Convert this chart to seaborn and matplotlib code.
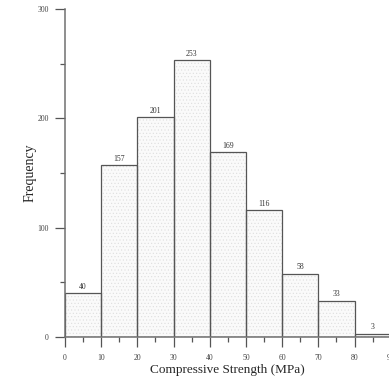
import numpy as np
import matplotlib
matplotlib.use("Agg")
import matplotlib.pyplot as plt
import seaborn as sns

# Compressive strength histogram (1030 concrete samples)
bin_edges = [0, 10, 20, 30, 40, 50, 60, 70, 80, 90]
counts = [40, 157, 201, 253, 169, 116, 58, 33, 3]
bin_centers = [(a + b) / 2 for a, b in zip(bin_edges[:-1], bin_edges[1:])]
x_ticks = [0, 10, 20, 30, 40, 50, 60, 70, 80, 90]
y_ticks = [0, 100, 200, 300]

sns.set_style("ticks")
plt.rcParams["font.family"] = ["Liberation Serif", "DejaVu Serif"]
plt.rcParams["hatch.linewidth"] = 0.4

fig = plt.figure(figsize=(3.89, 3.80), dpi=100)
ax = fig.add_axes([0.167, 0.113, 0.8375, 0.863])

# dotted fill layer
sns.histplot(x=bin_centers, weights=counts, bins=bin_edges, ax=ax,
             color="#fafafa", edgecolor="#dedede", linewidth=0, alpha=1)
for p in ax.patches:
    p.set_hatch(".....")
    p.set_edgecolor("#dedede")
    p.set_linewidth(0)
# outline layer
sns.histplot(x=bin_centers, weights=counts, bins=bin_edges, ax=ax,
             fill=False, color="#555555", linewidth=0.9)

for c, n in zip(bin_centers, counts):
    ax.text(c, n + 2.5, str(n), ha="center", va="bottom", fontsize=5.6, color="#333333")

ax.set_xlim(0, 90)
ax.set_ylim(0, 300)
ax.set_xticks(x_ticks)
ax.set_yticks(y_ticks)
ax.set_xticks([5, 15, 25, 35, 45, 55, 65, 75, 85], minor=True)
ax.set_yticks([50, 150, 250], minor=True)

sns.despine(ax=ax)
for s in ["left", "bottom"]:
    ax.spines[s].set_color("#707070")
    ax.spines[s].set_linewidth(1.1)

ax.tick_params(axis="both", which="major", length=7.5, width=0.9, color="#555555",
               labelsize=5.6, labelcolor="#444444")
ax.tick_params(axis="both", which="minor", length=3.6, width=0.9, color="#555555")
ax.tick_params(axis="x", which="major", pad=5)
ax.tick_params(axis="y", which="major", pad=4)

ax.set_xlabel("Compressive Strength (MPa)", fontsize=9.5, labelpad=1)
ax.set_ylabel("Frequency", fontsize=10, labelpad=1)

fig.savefig("out.png", dpi=100)
